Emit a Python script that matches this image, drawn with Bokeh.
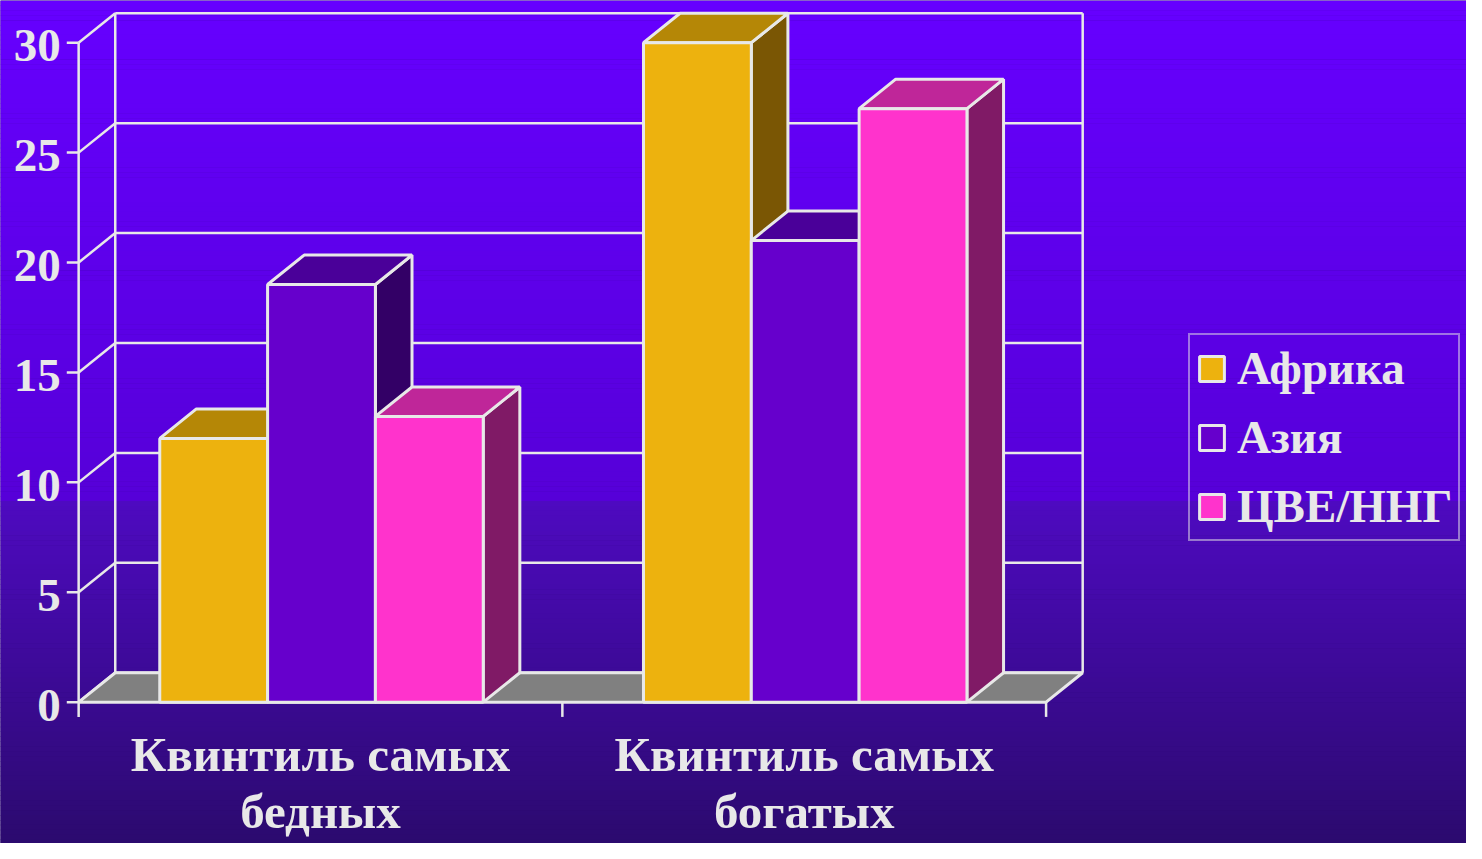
from bokeh.plotting import figure
from bokeh.models import Range1d, Legend, LegendItem
from bokeh.core.properties import value
from bokeh.embed import file_html
from bokeh.resources import INLINE

# ---------------- data ----------------
categories = ["Квинтиль самых\nбедных", "Квинтиль самых\nбогатых"]
series = ["Африка", "Азия", "ЦВЕ/ННГ"]
africa = [12, 30]
asia = [19, 21]
cve = [13, 27]
y_ticks = [0, 5, 10, 15, 20, 25, 30]
y_tick_labels = ["0", "5", "10", "15", "20", "25", "30"]

# ---------------- style ----------------
front_cols = ["#EDB20E", "#6600CC", "#FF33CC"]
top_cols = ["#B58706", "#4A0099", "#BF2699"]
side_cols = ["#7A5604", "#330066", "#801A66"]
LINE = "#E8E8E8"
FONT = "Liberation Serif"

W, H = 1466, 843
REF_W, REF_H = 1482.0, 859.0
# geometry (reference pixels) -> data units
PX_X = 489.0     # px per category unit
PX_Y = 22.4      # px per value unit
X0, Y0 = 79.0, 715.0
DX = 37.0 / PX_X
DY = 30.0 / PX_Y
BAR_W = 109.0 / PX_X
GAP = 82.0 / PX_X
YMAX = 30

def sx(px):
    return (px - X0) / PX_X

def sy(py):
    return (Y0 - py) / PX_Y

p = figure(width=W, height=H, output_backend="svg", toolbar_location=None,
           x_range=Range1d(sx(0), sx(REF_W)), y_range=Range1d(sy(REF_H), sy(0)),
           min_border=0, outline_line_color=None)
p.axis.visible = False
p.grid.visible = False
p.border_fill_color = "#2B0A6E"
p.background_fill_color = "#2B0A6E"

# background gradient (styling)
stops = [(0, (0x66, 0x00, 0xFF)), (510, (0x56, 0x00, 0xD8)),
         (511, (0x4E, 0x0A, 0xC0)), (860, (0x2B, 0x0A, 0x6E))]
bl, br, bb, bt, bc = [], [], [], [], []
step = 5
for ypix in range(0, 860, step):
    yc = ypix + step / 2
    for (a, ca), (b, cb) in zip(stops[:-1], stops[1:]):
        if a <= yc <= b:
            t = (yc - a) / max(b - a, 1)
            c = tuple(int(round(ca[i] + (cb[i] - ca[i]) * t)) for i in range(3))
            break
    bl.append(sx(-10)); br.append(sx(1500))
    bt.append(sy(ypix)); bb.append(sy(ypix + step + 0.5))
    bc.append("#%02x%02x%02x" % c)
p.quad(left=bl, right=br, top=bt, bottom=bb, fill_color=bc, line_color=None)

# ---------------- walls & grid ----------------
ncat = len(categories)
p.multi_line(xs=[[DX, ncat + DX] for v in y_ticks],
             ys=[[v + DY, v + DY] for v in y_ticks], line_color=LINE, line_width=2.5)
p.multi_line(xs=[[0, DX] for v in y_ticks],
             ys=[[v, v + DY] for v in y_ticks], line_color=LINE, line_width=2.5)
p.multi_line(xs=[[DX, DX], [ncat + DX, ncat + DX]],
             ys=[[DY, YMAX + DY], [DY, YMAX + DY]], line_color=LINE, line_width=2.5)
p.patch(x=[0, ncat, ncat + DX, DX], y=[0, 0, DY, DY], fill_color="#808080",
        line_color=LINE, line_width=3)
p.line(x=[0, 0], y=[0, YMAX], line_color=LINE, line_width=2.5)
tick_len = 12.0 / PX_X
p.multi_line(xs=[[-tick_len, 0] for v in y_ticks], ys=[[v, v] for v in y_ticks],
             line_color=LINE, line_width=2.5)
cat_tick = 15.0 / PX_Y
p.multi_line(xs=[[i, i] for i in range(ncat + 1)], ys=[[0, -cat_tick] for i in range(ncat + 1)],
             line_color=LINE, line_width=2.5)

# ---------------- bars ----------------
vals = [africa, asia, cve]
for g in range(ncat):
    for s in range(len(series)):
        v = vals[s][g]
        l = g + GAP + s * BAR_W
        r = l + BAR_W
        p.patch(x=[r, r + DX, r + DX, r], y=[0, DY, v + DY, v],
                fill_color=side_cols[s], line_color=LINE, line_width=3)
        p.patch(x=[l, r, r + DX, l + DX], y=[v, v, v + DY, v + DY],
                fill_color=top_cols[s], line_color=LINE, line_width=3)

front_renderers = []
for s in range(len(series)):
    lefts = [g + GAP + s * BAR_W for g in range(ncat)]
    rr = p.quad(left=lefts, right=[l + BAR_W for l in lefts], bottom=[0] * ncat,
                top=vals[s], fill_color=front_cols[s], line_color=LINE, line_width=3)
    front_renderers.append(rr)

# ---------------- texts ----------------
p.text(x=[sx(61)] * len(y_ticks), y=[v - 3.0 / PX_Y for v in y_ticks], text=y_tick_labels,
       text_align="right", text_baseline="middle", text_font=value(FONT),
       text_font_style="bold", text_font_size="47px", text_color=LINE)

line1 = [c.split("\n")[0] for c in categories]
line2 = [c.split("\n")[1] for c in categories]
p.text(x=[g + 0.5 for g in range(ncat)], y=[sy(768)] * ncat, text=line1,
       text_align="center", text_baseline="middle", text_font=value(FONT),
       text_font_style="bold", text_font_size="49px", text_color=LINE)
p.text(x=[g + 0.5 for g in range(ncat)], y=[sy(826)] * ncat, text=line2,
       text_align="center", text_baseline="middle", text_font=value(FONT),
       text_font_style="bold", text_font_size="49px", text_color=LINE)

legend = Legend(items=[LegendItem(label=series[s], renderers=[front_renderers[s]])
                       for s in range(len(series))],
                location=(1188, 302), orientation="vertical",
                label_text_font=FONT, label_text_font_style="bold",
                label_text_font_size="47px", label_text_color=LINE,
                glyph_width=31, glyph_height=31, label_standoff=10,
                padding=6, spacing=15, margin=0,
                border_line_color=LINE, border_line_width=2.5,
                background_fill_alpha=0)
p.add_layout(legend, "center")

open("out.html", "w").write(file_html(p, INLINE))
